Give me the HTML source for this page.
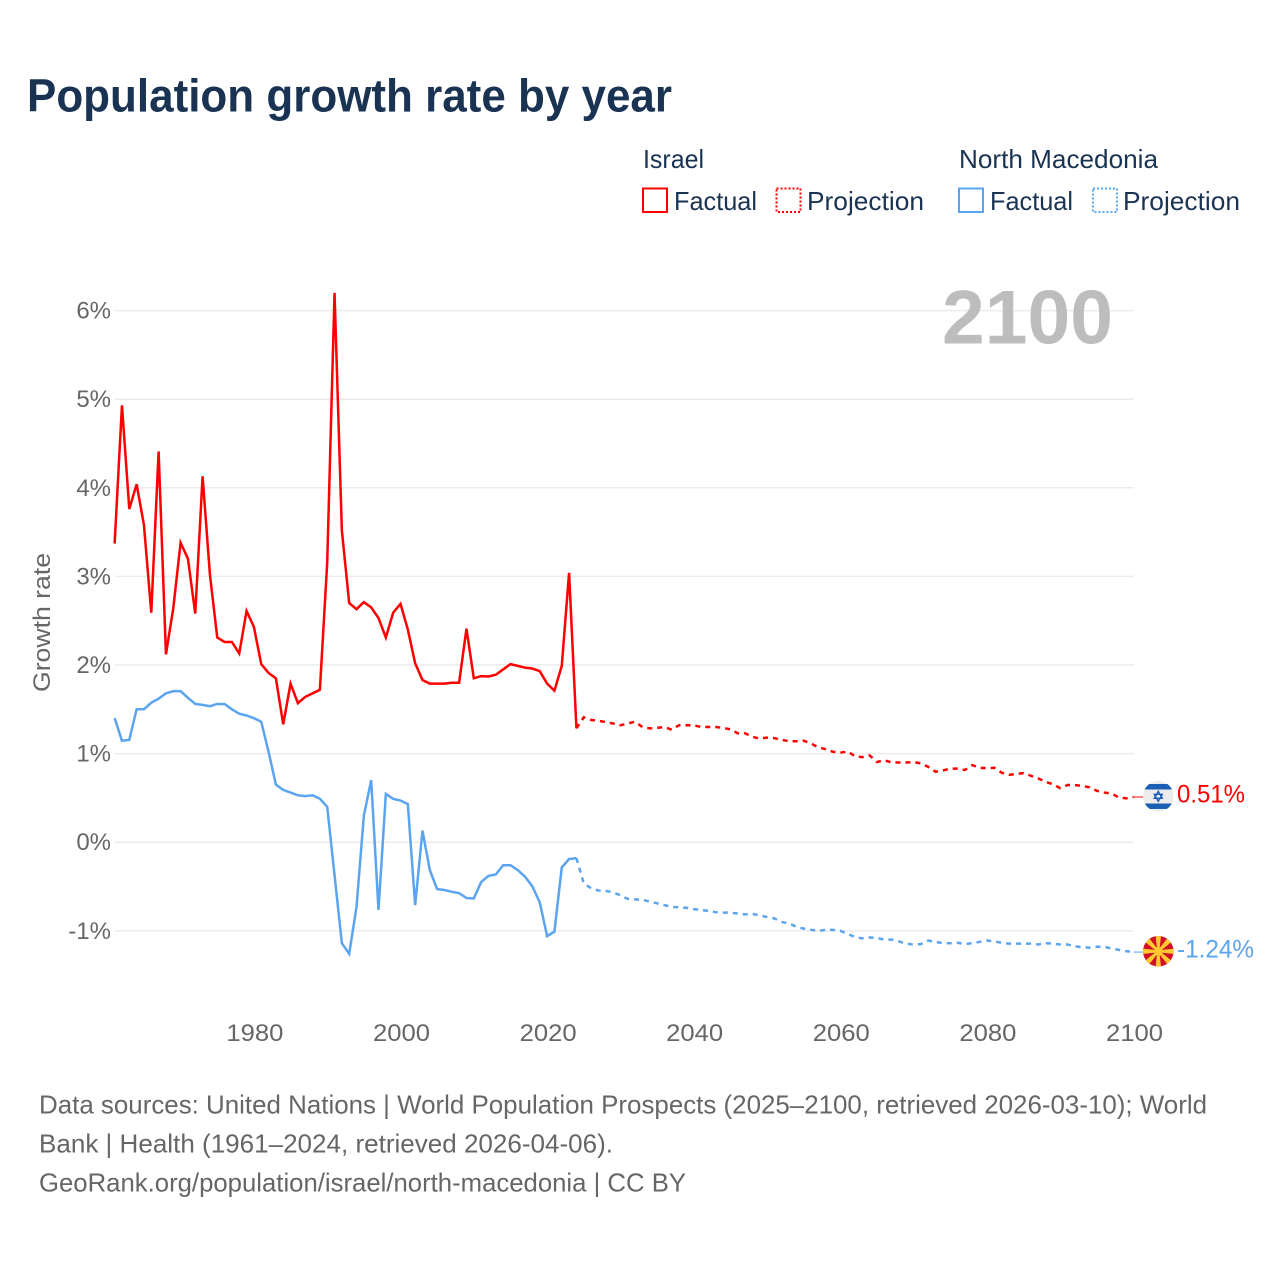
<!DOCTYPE html>
<html lang="en">
<head>
<meta charset="utf-8">
<title>Population growth rate by year</title>
<style>
html,body{margin:0;padding:0;background:#fff;width:1280px;height:1280px;overflow:hidden}
svg{display:block}
text{font-family:"Liberation Sans",sans-serif}
</style>
</head>
<body>
<svg id="chart" xmlns="http://www.w3.org/2000/svg" width="1280" height="1280" viewBox="0 0 1280 1280">
  <rect x="0" y="0" width="1280" height="1280" fill="#fff"/>
  <text x="27" y="111.500" font-size="46" font-weight="700" fill="#1a3353" textLength="645" lengthAdjust="spacingAndGlyphs">Population growth rate by year</text>

  <g fill="#1a3353" font-size="26">
    <text x="643" y="168" textLength="61" lengthAdjust="spacingAndGlyphs">Israel</text>
    <text x="959" y="168" textLength="199" lengthAdjust="spacingAndGlyphs">North Macedonia</text>
    <g>
      <rect x="643" y="188.500" width="24" height="23.500" fill="none" stroke="#ff0000" stroke-width="2"/>
      <text x="674" y="210" textLength="83" lengthAdjust="spacingAndGlyphs">Factual</text>
    </g>
    <g>
      <rect x="776.500" y="188.500" width="24" height="23.500" fill="none" stroke="#ff0000" stroke-width="2" stroke-dasharray="2 2"/>
      <text x="807" y="210" textLength="117" lengthAdjust="spacingAndGlyphs">Projection</text>
    </g>
    <g>
      <rect x="959" y="188.500" width="24" height="23.500" fill="none" stroke="#5ba4ef" stroke-width="2"/>
      <text x="990" y="210" textLength="83" lengthAdjust="spacingAndGlyphs">Factual</text>
    </g>
    <g>
      <rect x="1093" y="188.500" width="24" height="23.500" fill="none" stroke="#5ba4ef" stroke-width="2" stroke-dasharray="2 2"/>
      <text x="1123" y="210" textLength="117" lengthAdjust="spacingAndGlyphs">Projection</text>
    </g>
  </g>

  <g id="grid"></g>
  <text x="942" y="343.500" font-size="76" font-weight="700" fill="#bdbdbd" textLength="171" lengthAdjust="spacingAndGlyphs">2100</text>
  <g id="y-axis"></g>
  <g id="x-axis"></g>
  <text transform="translate(50,692) rotate(-90)" x="0" y="0" font-size="24" fill="#666" textLength="139" lengthAdjust="spacingAndGlyphs">Growth rate</text>
  <g id="series"></g>

  <g>
    <clipPath id="il-clip"><circle cx="1158.300" cy="796.300" r="15.300"/></clipPath>
    <circle cx="1158.300" cy="796.300" r="15.300" fill="#ececec"/>
    <g clip-path="url(#il-clip)" fill="#1a5fb4">
      <rect x="1143" y="784" width="31" height="5.500"/>
      <rect x="1143" y="803.500" width="31" height="5.500"/>
    </g>
    <g fill="none" stroke="#1a5fb4" stroke-width="1.400">
      <polygon points="1158.300,791.300 1162.300,798.300 1154.300,798.300"/>
      <polygon points="1158.300,801.300 1162.300,794.300 1154.300,794.300"/>
    </g>
  </g>
  <g>
    <clipPath id="mk-clip"><circle cx="1158.300" cy="951.300" r="15.300"/></clipPath>
    <circle cx="1158.300" cy="951.300" r="15.300" fill="#d20f26"/>
    <g clip-path="url(#mk-clip)" fill="#fdc92f">
      <polygon transform="rotate(0 1158.300 951.300)" points="1157.300,951.300 1159.300,951.300 1161.100,935 1155.500,935"/>
      <polygon transform="rotate(45 1158.300 951.300)" points="1157.300,951.300 1159.300,951.300 1161.100,935 1155.500,935"/>
      <polygon transform="rotate(90 1158.300 951.300)" points="1157.300,951.300 1159.300,951.300 1161.100,935 1155.500,935"/>
      <polygon transform="rotate(135 1158.300 951.300)" points="1157.300,951.300 1159.300,951.300 1161.100,935 1155.500,935"/>
      <polygon transform="rotate(180 1158.300 951.300)" points="1157.300,951.300 1159.300,951.300 1161.100,935 1155.500,935"/>
      <polygon transform="rotate(225 1158.300 951.300)" points="1157.300,951.300 1159.300,951.300 1161.100,935 1155.500,935"/>
      <polygon transform="rotate(270 1158.300 951.300)" points="1157.300,951.300 1159.300,951.300 1161.100,935 1155.500,935"/>
      <polygon transform="rotate(315 1158.300 951.300)" points="1157.300,951.300 1159.300,951.300 1161.100,935 1155.500,935"/>
    </g>
    <circle cx="1158.300" cy="951.300" r="4" fill="#fdc92f"/>
  </g>
  <text x="1177" y="802.500" font-size="25" fill="#ff0000" textLength="68" lengthAdjust="spacingAndGlyphs">0.51%</text>
  <text x="1177" y="957.500" font-size="25" fill="#5ba4ef" textLength="77" lengthAdjust="spacingAndGlyphs">-1.24%</text>

  <g font-size="26" fill="#666">
    <text x="39" y="1113.500" textLength="1168" lengthAdjust="spacingAndGlyphs">Data sources: United Nations | World Population Prospects (2025–2100, retrieved 2026-03-10); World</text>
    <text x="39" y="1152.500" textLength="574" lengthAdjust="spacingAndGlyphs">Bank | Health (1961–2024, retrieved 2026-04-06).</text>
    <text x="39" y="1191.500" textLength="647" lengthAdjust="spacingAndGlyphs">GeoRank.org/population/israel/north-macedonia | CC BY</text>
  </g>
</svg>
<script>
const firstFactualYear = 1961;
const firstProjectionYear = 2024;
const yTickValues = [6, 5, 4, 3, 2, 1, 0, -1];
const xTickValues = [1980, 2000, 2020, 2040, 2060, 2080, 2100];
const israelFactual = [3.37,4.93,3.76,4.04,3.58,2.59,4.41,2.12,2.64,3.38,3.20,2.58,4.13,3.02,2.31,2.26,2.26,2.13,2.61,2.43,2.01,1.91,1.85,1.33,1.79,1.57,1.64,1.68,1.72,3.15,6.20,3.52,2.70,2.63,2.71,2.65,2.53,2.31,2.59,2.69,2.40,2.02,1.83,1.79,1.79,1.79,1.80,1.80,2.41,1.85,1.875,1.87,1.89,1.95,2.01,1.99,1.97,1.96,1.93,1.79,1.71,1.99,3.04,1.285];
const israelProjection = [1.285,1.41,1.38,1.37,1.357,1.34,1.32,1.34,1.36,1.30,1.285,1.29,1.30,1.27,1.32,1.32,1.32,1.30,1.30,1.30,1.29,1.275,1.23,1.23,1.19,1.17,1.18,1.175,1.155,1.14,1.14,1.145,1.115,1.07,1.05,1.02,1.01,1.025,0.97,0.96,0.98,0.905,0.925,0.90,0.90,0.90,0.905,0.89,0.85,0.795,0.81,0.83,0.83,0.815,0.87,0.84,0.835,0.84,0.785,0.76,0.77,0.78,0.75,0.72,0.68,0.655,0.61,0.645,0.645,0.635,0.62,0.58,0.56,0.55,0.505,0.495,0.51];
const macedoniaFactual = [1.40,1.145,1.155,1.50,1.50,1.575,1.62,1.68,1.705,1.705,1.63,1.56,1.55,1.535,1.56,1.56,1.50,1.45,1.43,1.40,1.36,1.02,0.65,0.59,0.56,0.53,0.52,0.53,0.49,0.40,-0.37,-1.14,-1.26,-0.73,0.30,0.70,-0.765,0.545,0.49,0.47,0.43,-0.71,0.13,-0.315,-0.53,-0.54,-0.56,-0.575,-0.63,-0.635,-0.45,-0.38,-0.365,-0.26,-0.26,-0.315,-0.39,-0.50,-0.68,-1.06,-1.01,-0.285,-0.19,-0.18];
const macedoniaProjection = [-0.18,-0.465,-0.52,-0.545,-0.55,-0.565,-0.60,-0.64,-0.645,-0.65,-0.67,-0.69,-0.71,-0.73,-0.735,-0.74,-0.755,-0.765,-0.775,-0.79,-0.795,-0.795,-0.805,-0.815,-0.81,-0.825,-0.845,-0.86,-0.90,-0.915,-0.955,-0.975,-0.99,-1.00,-0.99,-0.99,-1.00,-1.035,-1.07,-1.085,-1.075,-1.08,-1.10,-1.10,-1.12,-1.145,-1.155,-1.15,-1.11,-1.125,-1.14,-1.14,-1.135,-1.15,-1.14,-1.125,-1.11,-1.12,-1.135,-1.145,-1.145,-1.145,-1.145,-1.155,-1.14,-1.145,-1.155,-1.155,-1.175,-1.185,-1.19,-1.18,-1.18,-1.20,-1.215,-1.23,-1.24];

const SVG_NS = 'http://www.w3.org/2000/svg';
const plotLeft = 115;
const plotRight = 1133.500;
function xScale(year) { return 1133.500 + (year - 2100) * 7.33; }
function yScale(value) { return 842.200 - value * 88.600; }

const grid = document.getElementById('grid');
const yAxis = document.getElementById('y-axis');
const xAxis = document.getElementById('x-axis');
const seriesLayer = document.getElementById('series');

yTickValues.forEach(function (tick) {
  const line = document.createElementNS(SVG_NS, 'line');
  
  
  line.setAttribute('x1', plotLeft);
  line.setAttribute('x2', plotRight);
  line.setAttribute('y1', yScale(tick));
  line.setAttribute('y2', yScale(tick));
  line.setAttribute('stroke', '#ebebeb');
  line.setAttribute('stroke-width', '1.500');
  grid.appendChild(line);

  const label = document.createElementNS(SVG_NS, 'text');
  
  
  label.setAttribute('x', 111);
  label.setAttribute('y', yScale(tick) + 8);
  label.setAttribute('text-anchor', 'end');
  label.setAttribute('font-size', '24');
  label.setAttribute('fill', '#666');
  label.textContent = tick + '%';
  yAxis.appendChild(label);
});

xTickValues.forEach(function (tick) {
  const label = document.createElementNS(SVG_NS, 'text');
  
  
  label.setAttribute('x', xScale(tick) - 27.500);
  label.setAttribute('y', 1041);
  label.setAttribute('font-size', '24');
  label.setAttribute('fill', '#666');
  label.setAttribute('textLength', '57');
  label.setAttribute('lengthAdjust', 'spacingAndGlyphs');
  label.textContent = String(tick);
  xAxis.appendChild(label);
});

function pathFor(values, startYear) {
  return values.map(function (value, i) {
    return (i ? 'L' : 'M') + xScale(startYear + i).toFixed(2) + ' ' + yScale(value).toFixed(2);
  }).join(' ');
}

function addLine(name, values, startYear, color, dash) {
  const path = document.createElementNS(SVG_NS, 'path');
  
  
  path.setAttribute('d', pathFor(values, startYear));
  path.setAttribute('fill', 'none');
  path.setAttribute('stroke', color);
  path.setAttribute('stroke-width', '2.500');
  path.setAttribute('stroke-linejoin', 'miter');
  if (dash) path.setAttribute('stroke-dasharray', dash);
  seriesLayer.appendChild(path);
}

function addConnector(name, values, color) {
  const y = yScale(values[values.length - 1]);
  const link = document.createElementNS(SVG_NS, 'line');
  
  
  link.setAttribute('x1', xScale(2100));
  link.setAttribute('x2', 1143);
  link.setAttribute('y1', y);
  link.setAttribute('y2', y);
  link.setAttribute('stroke', color);
  link.setAttribute('stroke-width', '1');
  seriesLayer.appendChild(link);
}

addLine('israel-factual-line', israelFactual, firstFactualYear, '#ff0000', null);
addLine('israel-projection-line', israelProjection, firstProjectionYear, '#ff0000', '5 5');
addLine('north-macedonia-factual-line', macedoniaFactual, firstFactualYear, '#5ba4ef', null);
addLine('north-macedonia-projection-line', macedoniaProjection, firstProjectionYear, '#5ba4ef', '5 5');
addConnector('israel-flag-connector', israelProjection, '#ff0000');
addConnector('north-macedonia-flag-connector', macedoniaProjection, '#5ba4ef');
</script>
</body>
</html>
